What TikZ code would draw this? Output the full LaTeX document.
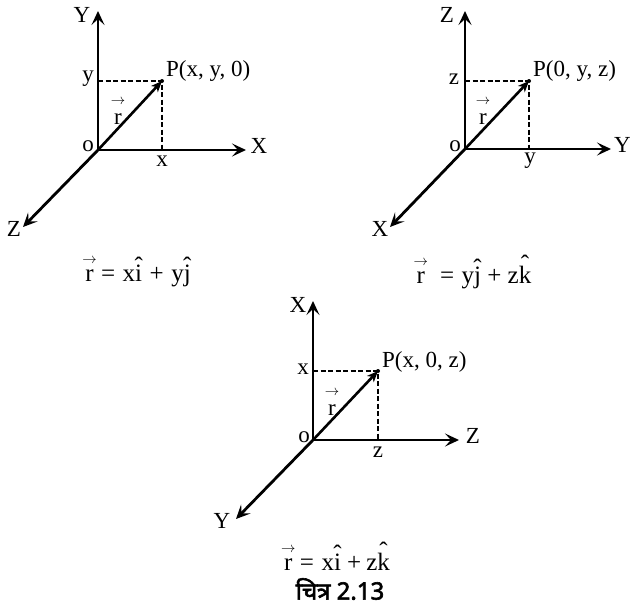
\documentclass[tikz,border=0pt]{standalone}
\usepackage{fontspec}
\setmainfont{Liberation Serif}
\newfontfamily\devfont[Script=Devanagari,FakeBold=2.5]{Noto Sans}
\usetikzlibrary{arrows.meta}
\newcommand\hatl[2][0.3em]{\leavevmode\setbox0\hbox{#2}\rlap{\hbox to\wd0{\hss\raisebox{#1}{\char"02C6}\hss}}\box0}
\newcommand\arrowr[1]{\leavevmode\setbox0\hbox{r}\rlap{\hbox to\wd0{\hss\raisebox{#1}{\fontsize{15}{15}\selectfont$\rightarrow$}\hss}}\box0}
\tikzset{
  axis/.style={line width=2.8pt,-{Stealth[length=14pt,width=13pt,inset=6pt]}},
  rvec/.style={line width=2.6pt,-{Stealth[length=11pt,width=9pt,inset=3pt]}},
  proj/.style={line width=2pt,dash pattern=on 5pt off 2.5pt},
  lab/.style={inner sep=0pt,font=\fontsize{23}{26}\selectfont},
  formula/.style={inner sep=0pt,font=\fontsize{25}{28}\selectfont},
  caption/.style={inner sep=0pt,font=\devfont\fontsize{24}{27}\selectfont},
  pdot/.style={fill=black}
}
\begin{document}
\begin{tikzpicture}[x=1pt,y=-1pt]
\useasboundingbox (0,0) rectangle (630,608);
% ---------- diagram 1 ----------
\coordinate (O1) at (98,150);
\coordinate (Y1) at (98,11);
\coordinate (X1) at (246,150);
\coordinate (Z1) at (23,227);
\coordinate (P1) at (162,81);
\coordinate (Py1) at (98,81);
\coordinate (Px1) at (162,150);
\draw[proj] (Py1) -- (P1) -- (Px1);
\draw[axis] (O1) -- (Y1);
\draw[axis] (O1) -- (X1);
\draw[axis] (O1) -- (Z1);
\draw[rvec] (O1) -- (P1);
\fill[pdot] (P1) circle (2);
\node[lab] (lY1) at (82,15) {Y};
\node[lab] (lX1) at (259,146) {X};
\node[lab] (lZ1) at (14,229) {Z};
\node[lab] (lo1) at (88,146) {o};
\node[lab] (ly1) at (88,79) {y};
\node[lab] (lx1) at (162,161) {x};
\node[lab,anchor=west] (lP1) at (166,71) {P(x, y, 0)};
\node[lab] (lr1) at (118,112) {\arrowr{0.85em}};
\node[formula] (f1) at (138,272) {\arrowr{0.72em}\hspace{0.3em}=\hspace{0.3em}x\hatl{i}\hspace{0.3em}+\hspace{0.3em}y\hatl{j}};
% ---------- diagram 2 ----------
\coordinate (O2) at (465,149);
\coordinate (Z2) at (465,11);
\coordinate (Y2) at (611,149);
\coordinate (X2) at (390,227);
\coordinate (P2) at (529,81);
\coordinate (Pz2) at (465,81);
\coordinate (Py2) at (529,149);
\draw[proj] (Pz2) -- (P2) -- (Py2);
\draw[axis] (O2) -- (Z2);
\draw[axis] (O2) -- (Y2);
\draw[axis] (O2) -- (X2);
\draw[rvec] (O2) -- (P2);
\fill[pdot] (P2) circle (2);
\node[lab] (lZ2) at (447,15) {Z};
\node[lab,anchor=west] (lY2) at (614,145) {Y};
\node[lab] (lX2) at (380,229) {X};
\node[lab] (lo2) at (455,146) {o};
\node[lab] (lz2) at (454,79) {z};
\node[lab] (ly2) at (530,161) {y};
\node[lab,anchor=west] (lP2) at (533,71) {P(0, y, z)};
\node[lab] (lr2) at (483,112) {\arrowr{0.85em}};
\node[formula] (f2) at (474,272) {\arrowr{0.72em}\hspace{0.6em}=\hspace{0.3em}y\hatl{j}\hspace{0.25em}+\hspace{0.25em}z\hatl[0.45em]{k}};
% ---------- diagram 3 ----------
\coordinate (O3) at (313,440);
\coordinate (X3) at (313,301);
\coordinate (Z3) at (459,440);
\coordinate (Y3) at (236,519);
\coordinate (P3) at (378,371);
\coordinate (Px3) at (313,371);
\coordinate (Pz3) at (378,440);
\draw[proj] (Px3) -- (P3) -- (Pz3);
\draw[axis] (O3) -- (X3);
\draw[axis] (O3) -- (Z3);
\draw[axis] (O3) -- (Y3);
\draw[rvec] (O3) -- (P3);
\fill[pdot] (P3) circle (2);
\node[lab] (lX3) at (298,305) {X};
\node[lab] (lZ3) at (473,436) {Z};
\node[lab] (lY3) at (222,521) {Y};
\node[lab] (lo3) at (304,437) {o};
\node[lab] (lx3) at (303,369) {x};
\node[lab] (lz3) at (378,452) {z};
\node[lab,anchor=west] (lP3) at (382,362) {P(x, 0, z)};
\node[lab] (lr3) at (332,403) {\arrowr{0.85em}};
\node[formula] (f3) at (337,556) {\arrowr{0.72em}\hspace{0.3em}=\hspace{0.3em}x\hatl{i}\hspace{0.25em}+\hspace{0.2em}z\hatl[0.45em]{k}};
\node[caption] (cap) at (340,589) {चित्र 2.13};
\end{tikzpicture}
\end{document}
